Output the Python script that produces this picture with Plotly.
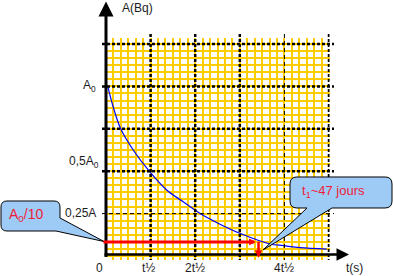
import plotly.graph_objects as go

# ---------------- data ----------------
# time in units of t1/2, activity in units of A0
curve_t = [0.04, 0.16, 0.33, 0.61, 0.97, 1.36, 1.73, 2.1, 2.5, 3.0, 3.68, 3.98, 4.35, 4.95]
curve_A = [1.0, 0.88, 0.75, 0.625, 0.5, 0.389, 0.32, 0.252, 0.195, 0.134, 0.071, 0.061, 0.049, 0.041]

y_major_vals = [0.25, 0.5, 0.75, 1.0, 1.25]
y_major_thin = [True, False, False, False, False]
x_major_vals = [1, 2, 3, 4, 5]
x_major_thin = [False, False, False, True, False]

y_tick_vals = [1.0, 0.5, 0.25]
y_tick_text = ["A<sub>0</sub>", "0,5A<sub>0</sub>", "0,25A"]
x_tick_vals = [0, 1, 2, 4]
x_tick_text = ["0", "t½", "2t½", "4t½"]

level_A = 0.083      # A0/10 level as drawn
t1 = 3.4             # t1 ~ 47 jours
label_level = "A<sub>0</sub>/10"
label_t1 = "t<sub>1</sub>~47 jours"

# ---------------- geometry ----------------
W, H = 393, 276
X0PX, XUNIT = 106.0, 44.6     # pixel of t=0, pixels per t1/2
Y0PX, YUNIT = 256.0, 169.6    # pixel of A=0, pixels per A0
PLOT_L, PLOT_R, PLOT_T, PLOT_B = 106.0, 329.5, 37.5, 260.0

def px(x):
    return x / W

def py(y):
    return 1 - y / H

x_range = [(PLOT_L - X0PX) / XUNIT, (PLOT_R - X0PX) / XUNIT]
y_range = [(Y0PX - PLOT_B) / YUNIT, (Y0PX - PLOT_T) / YUNIT]

YELLOW = "#FFCC00"
TXT = "#1c1c1c"
RED = "#FF0000"
CALL_TXT = "#ee1c3a"
FONT = "Liberation Sans, Arial, sans-serif"

fig = go.Figure()
fig.add_trace(go.Scatter(x=curve_t, y=curve_A, mode="lines",
                         line=dict(color="#0000FF", width=1.2, shape="spline"),
                         hoverinfo="skip", showlegend=False))

shapes = []
# horizontal dashed lines
for v, thin in zip(y_major_vals, y_major_thin):
    shapes.append(dict(type="line", xref="paper", yref="y",
                       x0=px(102), x1=px(334), y0=v, y1=v, layer="above",
                       line=dict(color="black", width=1 if thin else 2.5,
                                 dash="4px,3px" if thin else "3px,2px")))
# vertical dashed lines
for v, thin in zip(x_major_vals, x_major_thin):
    shapes.append(dict(type="line", xref="x", yref="paper",
                       x0=v, x1=v, y0=py(34), y1=py(260), layer="above",
                       line=dict(color="black", width=1 if thin else 2.5,
                                 dash="4px,3px" if thin else "3px,2px")))

def path_px(cmds):
    out = []
    for c in cmds:
        if isinstance(c, str):
            out.append(c)
        else:
            out.append(f"{px(c[0]):.5f},{py(c[1]):.5f}")
    return " ".join(out)

# callout 1 (A0/10)
p1 = path_px(["M", (7, 201), "L", (54, 201), "Q", (60, 201), (60, 207), "L", (60, 218),
              "L", (104, 241.5), "L", (56, 231), "L", (7, 231), "Q", (1, 231), (1, 225),
              "L", (1, 207), "Q", (1, 201), (7, 201), "Z"])
# callout 2 (t1)
p2 = path_px(["M", (297, 177), "L", (385, 177), "Q", (392, 177), (392, 184), "L", (392, 201),
              "Q", (392, 208), (385, 208), "L", (332, 208), "L", (263, 250), "L", (307, 208),
              "L", (297, 208), "Q", (290, 208), (290, 201), "L", (290, 184),
              "Q", (290, 177), (297, 177), "Z"])
for p in (p1, p2):
    shapes.append(dict(type="path", xref="paper", yref="paper", path=p, layer="above",
                       fillcolor="#9ecbf5", line=dict(color="black", width=1)))

annotations = []
# axes with arrows
annotations.append(dict(x=0, xref="x", y=py(1.5), yref="paper", ax=0, ay=257,
                        axref="pixel", ayref="pixel", text="", showarrow=True,
                        arrowhead=2, arrowsize=1, arrowwidth=3, arrowcolor="black", standoff=0))
annotations.append(dict(x=px(349), xref="paper", y=py(254.5), yref="paper", ax=-246, ay=0,
                        axref="pixel", ayref="pixel", text="", showarrow=True,
                        arrowhead=2, arrowsize=1, arrowwidth=2.5, arrowcolor="black", standoff=0))
# red arrows
annotations.append(dict(x=t1 - 0.04, xref="x", y=level_A, yref="y", ax=-0.09, ay=level_A,
                        axref="x", ayref="y", text="", showarrow=True,
                        arrowhead=2, arrowsize=0.45, arrowwidth=3, arrowcolor=RED, standoff=0))
annotations.append(dict(x=t1 + 0.02, xref="x", y=-0.01, yref="y", ax=t1 + 0.02, ay=level_A + 0.01,
                        axref="x", ayref="y", text="", showarrow=True,
                        arrowhead=2, arrowsize=0.6, arrowwidth=2.5, arrowcolor=RED, standoff=0))

# y tick labels
y_right = [98, 101, 98]
y_anchor = ["middle", "bottom", "middle"]
y_shift = [0, -1, 1]
for v, t, r, a, s in zip(y_tick_vals, y_tick_text, y_right, y_anchor, y_shift):
    annotations.append(dict(x=px(r), xref="paper", y=v, yref="y", text=t, showarrow=False,
                            xanchor="right", yanchor=a, yshift=s,
                            font=dict(family=FONT, size=12, color=TXT)))
# x tick labels
x_shift = [-7, -2, 0, 0]
for v, t, s in zip(x_tick_vals, x_tick_text, x_shift):
    annotations.append(dict(x=v, xref="x", y=py(268), yref="paper", text=t, showarrow=False,
                            xanchor="center", yanchor="middle", xshift=s,
                            font=dict(family=FONT, size=12, color=TXT)))
annotations.append(dict(x=px(354), xref="paper", y=py(268), yref="paper", text="t(s)",
                        showarrow=False, xanchor="center", yanchor="middle",
                        font=dict(family=FONT, size=12, color=TXT)))
annotations.append(dict(x=px(120), xref="paper", y=py(8), yref="paper", text="A(Bq)",
                        showarrow=False, xanchor="left", yanchor="middle",
                        font=dict(family=FONT, size=12, color=TXT)))
# callout texts
annotations.append(dict(x=px(26), xref="paper", y=py(215), yref="paper", text=label_level,
                        showarrow=False, xanchor="center", yanchor="middle",
                        font=dict(family=FONT, size=14, color=CALL_TXT)))
annotations.append(dict(x=px(333), xref="paper", y=py(191), yref="paper", text=label_t1,
                        showarrow=False, xanchor="center", yanchor="middle",
                        font=dict(family=FONT, size=13, color=CALL_TXT)))

fig.update_layout(
    width=W, height=H, margin=dict(l=0, r=0, t=0, b=0),
    paper_bgcolor="white", plot_bgcolor="white",
    showlegend=False, shapes=shapes, annotations=annotations,
    xaxis=dict(domain=[px(PLOT_L), px(PLOT_R)], range=x_range, tick0=0, dtick=1 / 6,
               showgrid=True, gridcolor=YELLOW, gridwidth=2, zeroline=False,
               showticklabels=False, ticks="", showline=False, fixedrange=True),
    yaxis=dict(domain=[py(PLOT_B), py(PLOT_T)], range=y_range, tick0=0, dtick=1 / 24,
               showgrid=True, gridcolor=YELLOW, gridwidth=2, zeroline=False,
               showticklabels=False, ticks="", showline=False, fixedrange=True),
)

fig.write_html("out.html", config={"displayModeBar": False})
